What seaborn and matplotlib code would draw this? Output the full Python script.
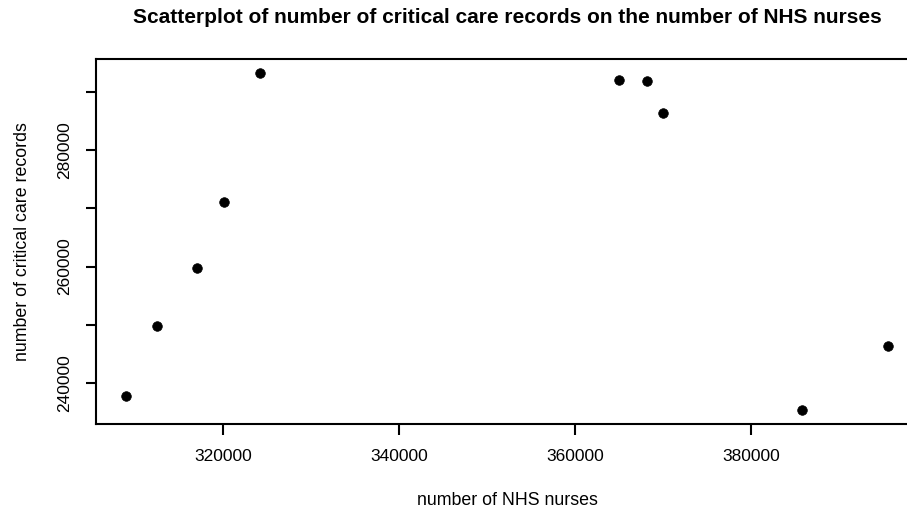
import matplotlib
matplotlib.use("Agg")
import matplotlib.pyplot as plt
import seaborn as sns
import pandas as pd

# NHS nursing workforce vs. critical care records
nhs_nurses = [309034, 312557, 317102, 320170, 324261,
              364977, 368239, 370023, 385818, 395545]
critical_care_records = [237818, 249828, 259777, 271151, 293299,
                         292027, 291924, 286426, 235292, 246392]

x_ticks = [320000, 340000, 360000, 380000]
y_ticks = [240000, 250000, 260000, 270000, 280000, 290000]
y_tick_labels = ["240000", "", "260000", "", "280000", ""]

df = pd.DataFrame({"nurses": nhs_nurses, "records": critical_care_records})

sns.set_theme(style="white")
plt.rcParams["font.family"] = ["Liberation Sans", "DejaVu Sans"]
plt.rcParams["text.color"] = "black"
plt.rcParams["axes.labelcolor"] = "black"

fig = plt.figure(figsize=(9.07, 5.09), dpi=100)
W, H = 907, 509
left, right, top, bottom = 96, 918, 59, 424
ax = fig.add_axes([left / W, (H - bottom) / H, (right - left) / W, (bottom - top) / H])

sns.scatterplot(data=df, x="nurses", y="records", ax=ax, color="black",
                s=48, edgecolor="black", linewidth=0.5)

# R-style 4% padding around data range
xr = max(nhs_nurses) - min(nhs_nurses)
yr = max(critical_care_records) - min(critical_care_records)
ax.set_xlim(min(nhs_nurses) - 0.04 * xr, max(nhs_nurses) + 0.04 * xr)
ax.set_ylim(min(critical_care_records) - 0.04 * yr, max(critical_care_records) + 0.04 * yr)

ax.set_xticks(x_ticks)
ax.set_xticklabels([str(v) for v in x_ticks], fontsize=12.5)
ax.set_yticks(y_ticks)
ax.set_yticklabels(y_tick_labels, fontsize=12.5, rotation=90, va="center")

for sp in ax.spines.values():
    sp.set_visible(True)
    sp.set_color("black")
    sp.set_linewidth(1.5)

ax.tick_params(axis="x", which="both", direction="out", length=8, width=1.5,
               pad=10, colors="black", bottom=True)
ax.tick_params(axis="y", which="both", direction="out", length=7, width=1.5,
               pad=10, colors="black", left=True)

ax.set_xlabel("number of NHS nurses", fontsize=12.8, labelpad=20)
ax.set_ylabel("number of critical care records", fontsize=12.8, labelpad=19)
ax.set_title("Scatterplot of number of critical care records on the number of NHS nurses",
             fontsize=15, fontweight="bold", pad=26, color="black")

fig.savefig("out.png", dpi=100)
